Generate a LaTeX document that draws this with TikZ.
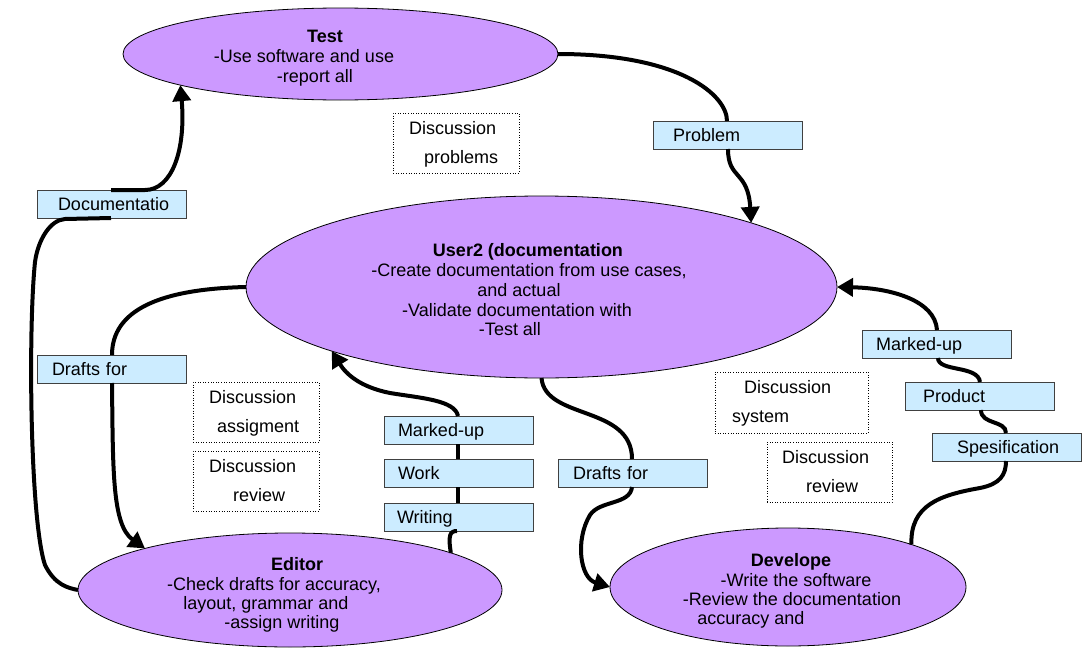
\documentclass[tikz,border=0pt]{standalone}
\usepackage{fontspec}
\setmainfont{Liberation Sans}
\usetikzlibrary{arrows.meta,shapes.geometric}

\definecolor{ellfill}{HTML}{CC99FF}
\definecolor{boxfill}{HTML}{CCECFF}
\definecolor{boxline}{HTML}{404040}

\tikzset{
  ell/.style={ellipse, draw=black, line width=0.8pt, fill=ellfill, inner sep=0pt, outer sep=0pt},
  etext/.style={anchor=base, inner sep=0pt, font=\fontsize{18}{20}\selectfont},
  etitle/.style={anchor=base, inner sep=0pt, font=\fontsize{18}{20}\selectfont\bfseries},
  lbox/.style={draw=boxline, line width=0.8pt, fill=boxfill, anchor=north west,
    minimum width=149pt, minimum height=28pt, text width=149pt,
    inner xsep=0pt, inner ysep=0pt, outer sep=0pt, align=left,
    text height=13pt, text depth=0pt, font=\fontsize{18}{20}\selectfont},
  dbox/.style={draw=black, line width=0.6pt, dotted, inner sep=0pt, outer sep=0pt, anchor=north west},
  dtext/.style={anchor=base west, inner sep=0pt, font=\fontsize{18}{20}\selectfont},
  flow/.style={line width=4pt, -{Triangle[length=16pt,width=18pt]}},
  link/.style={line width=4pt},
}

\begin{document}
\begin{tikzpicture}[x=1pt, y=-1pt]
\fill[white] (0,0) rectangle (1088,648);
\useasboundingbox (0,0) rectangle (1088,648);

% ---- roles ----
\node[ell, minimum width=435pt, minimum height=92pt] (test) at (340.5,54) {};
\node[etitle] (test-t1) at (325,42) {Test};
\node[etext]  (test-t2) at (304,62) {-Use software and use};
\node[etext]  (test-t3) at (315,82) {-report all};

\node[ell, minimum width=591pt, minimum height=182pt] (user) at (541.5,287) {};
\node[etitle] (user-t1) at (528,256) {User2 (documentation};
\node[etext]  (user-t2) at (529,276) {-Create documentation from use cases,};
\node[etext]  (user-t3) at (519,296) {and actual};
\node[etext]  (user-t4) at (517,316) {-Validate documentation with};
\node[etext]  (user-t5) at (510,335) {-Test all};

\node[ell, minimum width=424pt, minimum height=114pt] (editor) at (290,590) {};
\node[etitle] (ed-t1) at (297,570) {Editor};
\node[etext]  (ed-t2) at (274,590) {-Check drafts for accuracy,};
\node[etext]  (ed-t3) at (266,609) {layout, grammar and};
\node[etext]  (ed-t4) at (282,628) {-assign writing};

\node[ell, minimum width=356pt, minimum height=118pt] (dev) at (788,587) {};
\node[etitle] (dev-t1) at (791,566) {Develope};
\node[etext]  (dev-t2) at (796,586) {-Write the software};
\node[etext]  (dev-t3) at (792,605) {-Review the documentation};
\node[etext]  (dev-t4) at (751,624) {accuracy and};

% ---- artefact labels ----
\node[lbox] (doc)     at (37,190)  {\hspace*{21pt}Documentatio};
\node[lbox] (prob)    at (653,121) {\hspace*{20pt}Problem};
\node[lbox] (draftsL) at (37,355)  {\hspace*{15pt}Drafts for};
\node[lbox] (markL)   at (384,416) {\hspace*{14pt}Marked-up};
\node[lbox] (work)    at (384,459) {\hspace*{14pt}Work};
\node[lbox] (writing) at (384,503) {\hspace*{13pt}Writing};
\node[lbox] (markR)   at (862,330) {\hspace*{14pt}Marked-up};
\node[lbox] (product) at (905,382) {\hspace*{18pt}Product};
\node[lbox] (spes)    at (932,433) {\hspace*{25pt}Spesification};
\node[lbox] (draftsM) at (558,459) {\hspace*{15pt}Drafts for};

% ---- discussion notes ----
\node[dbox, minimum width=126pt, minimum height=60pt] (dprob) at (393,113) {};
\node[dtext] (dprob-t1) at (409,134) {Discussion};
\node[dtext] (dprob-t2) at (424,163) {problems};

\node[dbox, minimum width=126pt, minimum height=60pt] (dassig) at (193,382) {};
\node[dtext] (dassig-t1) at (209,403) {Discussion};
\node[dtext] (dassig-t2) at (217,432) {assigment};

\node[dbox, minimum width=126pt, minimum height=60pt] (drevL) at (193,451) {};
\node[dtext] (drevL-t1) at (209,472) {Discussion};
\node[dtext] (drevL-t2) at (233,501) {review};

\node[dbox, minimum width=153pt, minimum height=61pt] (dsys) at (715,372) {};
\node[dtext] (dsys-t1) at (744,393) {Discussion};
\node[dtext] (dsys-t2) at (732,422) {system};

\node[dbox, minimum width=125pt, minimum height=60pt] (drevR) at (767,442) {};
\node[dtext] (drevR-t1) at (782,463) {Discussion};
\node[dtext] (drevR-t2) at (806,492) {review};

% ---- flows ----
% editor -> documentation -> test
\draw[link] (111,0 |- doc.south) -- (65,219) .. controls (50,220) and (38,240) .. (35,262)
  .. controls (28,330) and (30,520) .. (45,565) .. controls (55,585) and (68,588) .. (editor.west);
\draw[flow] (111,0 |- doc.north) -- (145,0 |- doc.north) .. controls (172,190) and (186,150) .. (test.191.7);

% test -> problem -> user2
\draw[link] (test.east) .. controls (680,54) and (727,95) .. (727,0 |- prob.north);
\draw[flow] (728,0 |- prob.south) .. controls (728,180) and (748,170) .. (user.17.2);

% user2 -> drafts -> editor
\draw[link] (user.west) .. controls (160,289) and (112,310) .. (112,0 |- draftsL.north);
\draw[flow] (112,0 |- draftsL.south) .. controls (113,470) and (112,525) .. (editor.164);

% editor -> writing / work / marked-up -> user2
\draw[link] (editor.13.5) .. controls (448,535) and (450,531) .. (457,0 |- writing.south);
\draw[link] (458,0 |- writing.north) -- (458,0 |- work.south);
\draw[link] (458,0 |- work.north) -- (458,0 |- markL.south);
\draw[flow] (458,0 |- markL.north) .. controls (455,400) and (420,398) .. (390,393)
  .. controls (360,387) and (346,374) .. (user.197.2);

% user2 -> drafts -> develope
\draw[link] (user.south) .. controls (545,420) and (632,405) .. (632,0 |- draftsM.north);
\draw[flow] (632,0 |- draftsM.south) .. controls (630,505) and (600,500) .. (590,515)
  .. controls (575,540) and (580,578) .. (dev.west);

% develope -> specification / product / marked-up -> user2
\draw[link] (dev.19.5) .. controls (910,505) and (940,495) .. (980,488)
  .. controls (1000,484) and (1006,475) .. (1006,0 |- spes.south);
\draw[link] (1006,0 |- spes.north) .. controls (1006,420) and (981,425) .. (981,0 |- product.south);
\draw[link] (980,0 |- product.north) .. controls (978,365) and (938,372) .. (938,0 |- markR.south);
\draw[flow] (937,0 |- markR.north) .. controls (935,300) and (890,288) .. (user.east);
\end{tikzpicture}
\end{document}
